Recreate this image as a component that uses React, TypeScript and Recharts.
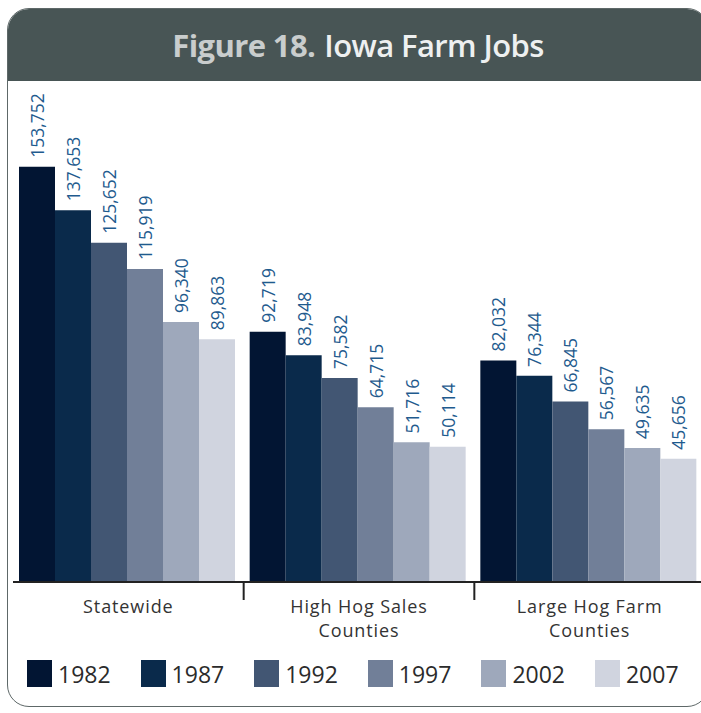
import React from 'react';
import { BarChart, Bar, XAxis, YAxis, LabelList } from 'recharts';

const categories = ['Statewide', 'High Hog Sales\nCounties', 'Large Hog Farm\nCounties'];
const years = ['1982', '1987', '1992', '1997', '2002', '2007'];
const yearColors = ['#021533', '#0a2a4b', '#425673', '#717f98', '#9ea8bb', '#d0d4df'];

const jobs1982 = [153752, 92719, 82032];
const jobs1987 = [137653, 83948, 76344];
const jobs1992 = [125652, 75582, 66845];
const jobs1997 = [115919, 64715, 56567];
const jobs2002 = [96340, 51716, 49635];
const jobs2007 = [89863, 50114, 45656];

const seriesValues = [jobs1982, jobs1987, jobs1992, jobs1997, jobs2002, jobs2007];

const chartData = categories.map((name, i) => {
  const row: Record<string, string | number> = { name };
  years.forEach((y, k) => {
    row[y] = seriesValues[k][i];
  });
  return row;
});

const FONT = '"Open Sans", "DejaVu Sans", sans-serif';

// category label plus a divider on the left edge of each band after the first
const CategoryTick = (props: any) => {
  const { x, y, payload, index } = props;
  const lines = String(payload.value).split('\n');
  const half = payload.offset || 0;
  const axisY = y - 8;
  return (
    <g>
      {index > 0 && (
        <line x1={x - half} x2={x - half} y1={axisY} y2={axisY + 18} stroke="#222" strokeWidth={2} />
      )}
      {lines.map((l, i) => (
        <text
          key={i}
          x={x}
          y={y + 23 + i * 24}
          textAnchor="middle"
          fill="#333"
          fontSize={18}
          letterSpacing={0.9}
          fontFamily={FONT}
        >
          {l}
        </text>
      ))}
    </g>
  );
};

const ValueLabel = (props: any) => {
  const { x, y, width, value } = props;
  const cx = x + width / 2;
  const ty = y - 9;
  return (
    <text
      x={cx}
      y={ty}
      transform={`rotate(-90 ${cx} ${ty})`}
      textAnchor="start"
      dominantBaseline="central"
      fill="#1f5b8e"
      fontSize={17.5}
      fontFamily={FONT}
    >
      {Number(value).toLocaleString('en-US')}
    </text>
  );
};

export default function App() {
  return (
    <div
      style={{
        position: 'fixed',
        left: 0,
        top: 0,
        width: 701,
        height: 713,
        overflow: 'hidden',
        background: '#fff',
        fontFamily: FONT,
      }}
    >
      {/* card frame */}
      <div
        style={{
          position: 'absolute',
          left: 7,
          top: 8,
          width: 702,
          height: 699,
          border: '1px solid #5e6868',
          borderRadius: 22,
          boxSizing: 'border-box',
          overflow: 'hidden',
        }}
      >
        <div
          style={{
            height: 72,
            background: '#485555',
            display: 'flex',
            alignItems: 'center',
            justifyContent: 'center',
            fontSize: 31,
            fontWeight: 700,
            letterSpacing: -0.6,
          }}
        >
          <span style={{ color: '#c9cdcd' }}>Figure 18.</span>
          <span style={{ color: '#eef0f0', marginLeft: 9, fontWeight: 600 }}>Iowa Farm Jobs</span>
        </div>
      </div>

      <div style={{ position: 'absolute', left: 0, top: 0 }}>
        <BarChart
          width={710}
          height={713}
          data={chartData}
          margin={{ top: 96, right: 5, left: 13, bottom: 71 }}
          barCategoryGap={6}
          barGap={0}
        >
          <XAxis
            dataKey="name"
            height={60}
            axisLine={{ stroke: '#222', strokeWidth: 2 }}
            tickLine={false}
            tick={<CategoryTick />}
            interval={0}
          />
          <YAxis hide domain={[0, 180000]} />
          {years.map((y, k) => (
            <Bar key={y} dataKey={y} fill={yearColors[k]} isAnimationActive={false}>
              <LabelList dataKey={y} content={<ValueLabel />} />
            </Bar>
          ))}
        </BarChart>
      </div>

      {/* legend */}
      <div
        style={{
          position: 'absolute',
          left: 27,
          top: 660,
          display: 'flex',
          alignItems: 'center',
          height: 27,
        }}
      >
        {years.map((y, k) => (
          <div key={y} style={{ display: 'flex', alignItems: 'center', width: 113.6 }}>
            <div style={{ width: 25, height: 27, background: yearColors[k] }} />
            <span style={{ marginLeft: 6, fontSize: 23, color: '#2b2b2b' }}>{y}</span>
          </div>
        ))}
      </div>
    </div>
  );
}
